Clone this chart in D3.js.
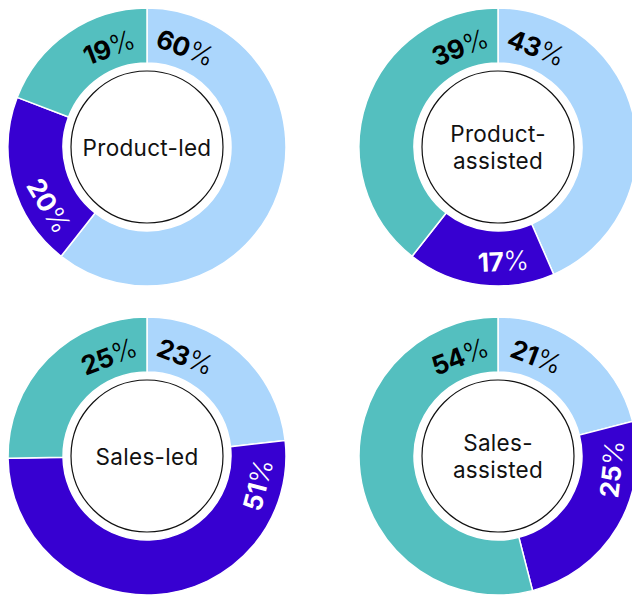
<!DOCTYPE html>
<html><head><meta charset="utf-8">
<script src="https://cdn.jsdelivr.net/npm/d3@7"></script>
<style>html,body{margin:0;padding:0;background:#fff;}svg{display:block;}</style>
</head><body>
<svg id="c" width="632" height="596"></svg>
<script>
const chartNames = ["Product-led", "Product-assisted", "Sales-led", "Sales-assisted"];
const centerLines = [["Product-led"], ["Product-", "assisted"], ["Sales-led"], ["Sales-", "assisted"]];
const seriesNames = ["Light blue", "Purple", "Teal"];
const lightBlue = [60, 43, 23, 21];
const purple = [20, 17, 51, 25];
const teal = [19, 39, 25, 54];
const colors = ["#abd6fc", "#3700d1", "#54bfbf"];
const labelColors = ["#000000", "#ffffff", "#000000"];

const svg = d3.select("#c");
const cols = d3.scalePoint().domain([0, 1]).range([147, 498]);
const rows = d3.scalePoint().domain([0, 1]).range([147, 456]);
const outerR = 139, innerR = 84, circleR = 76;

const pie = d3.pie().sort(null).value(d => d.v).startAngle(0).endAngle(2 * Math.PI);
const arc = d3.arc().innerRadius(innerR).outerRadius(outerR);
const deg = r => r * 180 / Math.PI;

chartNames.forEach((name, i) => {
  const data = [lightBlue[i], purple[i], teal[i]].map((v, k) => ({v, k}));
  const g = svg.append("g").attr("transform", `translate(${cols(i % 2)},${rows(Math.floor(i / 2))})`);
  const arcs = pie(data);
  g.selectAll("path").data(arcs).join("path")
    .attr("d", arc)
    .attr("fill", d => colors[d.data.k])
    .attr("stroke", "#fff").attr("stroke-width", 1.5);
  g.append("circle").attr("r", circleR).attr("fill", "#fff").attr("stroke", "#111").attr("stroke-width", 1.2);
  const lines = centerLines[i];
  const lh = 27.5;
  const t = g.append("text").attr("text-anchor", "middle")
    .attr("font-family", "Inter, 'DejaVu Sans', sans-serif").attr("font-size", 22.5)
    .attr("letter-spacing", 0.3).attr("fill", "#111");
  lines.forEach((ln, j) => {
    t.append("tspan").attr("x", 0)
      .attr("y", (j - (lines.length - 1) / 2) * lh + 8.5)
      .text(ln);
  });
  arcs.forEach(a => {
    const k = a.data.k;
    let ang = k === 2 ? deg(a.endAngle) - 21 : deg(a.startAngle) + 21;
    const flip = ang > 90 && ang < 270;
    const r = flip ? 114 : 107;
    const rad = ang * Math.PI / 180;
    const x = r * Math.sin(rad), y = -r * Math.cos(rad);
    const rot = flip ? ang - 180 : ang;
    const lt = g.append("text")
      .attr("transform", `translate(${x},${y}) rotate(${rot})`)
      .attr("text-anchor", "middle").attr("dominant-baseline", "central")
      .attr("font-family", "Inter, 'DejaVu Sans', sans-serif").attr("font-size", 26)
      .attr("fill", labelColors[k]).attr("letter-spacing", -0.3);
    lt.append("tspan").attr("font-weight", 650).text(a.data.v);
    lt.append("tspan").attr("font-weight", 300).attr("font-size", 27).text("%");
  });
});
</script>
</body></html>
